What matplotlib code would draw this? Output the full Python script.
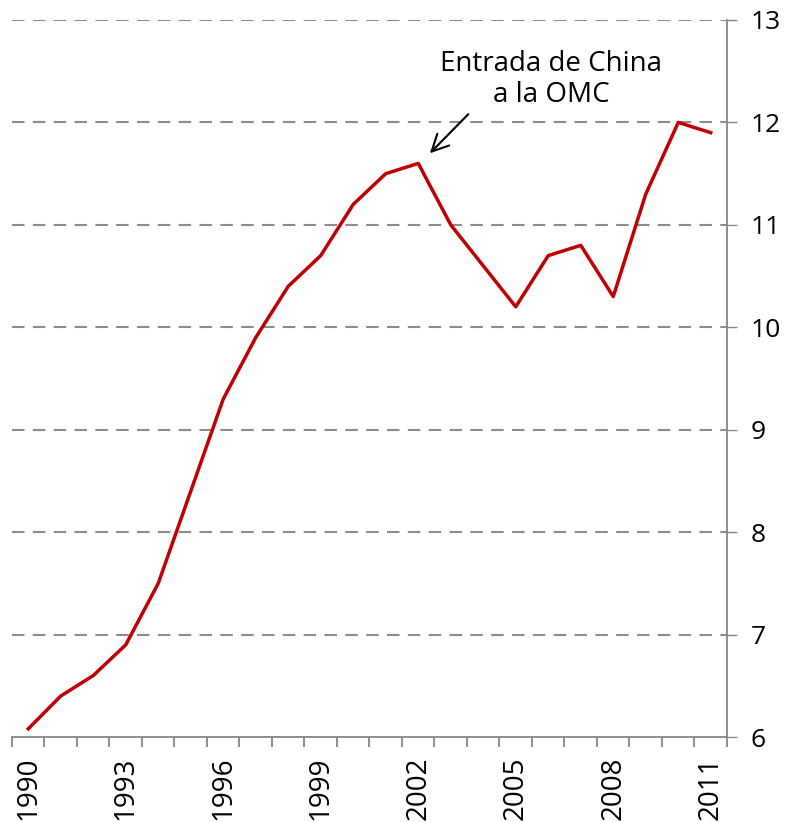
import matplotlib.pyplot as plt
import numpy as np

plt.rcParams['font.family'] = ['Open Sans', 'DejaVu Sans']

years = np.arange(1990, 2012)
values = [6.08, 6.4, 6.6, 6.9, 7.5, 8.4, 9.3, 9.9, 10.4, 10.7, 11.2,
          11.5, 11.6, 11.0, 10.6, 10.2, 10.7, 10.8, 10.3, 11.3, 12.0, 11.9]
label_years = [1990, 1993, 1996, 1999, 2002, 2005, 2008, 2011]
y_ticks = [6, 7, 8, 9, 10, 11, 12, 13]

fig = plt.figure(figsize=(7.9, 8.22), dpi=100)
ax = fig.add_axes([12 / 790, 1 - 737 / 822, 715 / 790, 717 / 822])

for v in y_ticks[1:]:
    ax.axhline(v, color='#8c8c8c', lw=1.5, ls=(0, (6, 4)), zorder=1)

ax.plot(years, values, color='#c00000', lw=2.5, zorder=3)

ax.set_xlim(1989.5, 2011.5)
ax.set_ylim(6, 13)

ax.yaxis.tick_right()
ax.set_yticks(y_ticks)
ax.tick_params(axis='y', direction='out', length=7, width=1, color='#868686',
               labelsize=19, pad=10)

ax.set_xticks(label_years)
ax.set_xticklabels([str(y) for y in label_years], rotation=90, fontsize=20)
ax.set_xticks(np.arange(1989.5, 2012, 1), minor=True)
ax.tick_params(axis='x', which='major', length=0, pad=14)
ax.tick_params(axis='x', which='minor', direction='out', length=7, width=1.3,
               color='#868686')

for side in ['top', 'left']:
    ax.spines[side].set_visible(False)
for side in ['bottom', 'right']:
    ax.spines[side].set_color('#868686')
    ax.spines[side].set_linewidth(1.3)

ax.annotate('', xy=(2002.3, 11.68), xytext=(2003.6, 12.1),
            arrowprops=dict(arrowstyle='->', color='black', lw=1.5,
                            mutation_scale=30))
ax.text(2006.1, 12.42, 'Entrada de China\na la OMC', ha='center', va='center',
        fontsize=20, linespacing=1.15)

fig.savefig('out.png', dpi=100)
